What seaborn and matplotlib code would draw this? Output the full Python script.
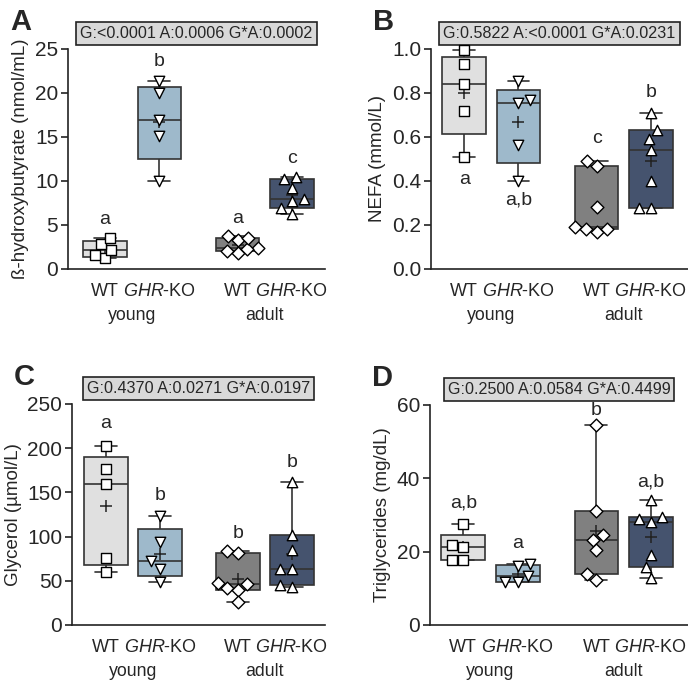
import numpy as np
import pandas as pd
import matplotlib as mpl
import matplotlib.pyplot as plt
import seaborn as sns
from matplotlib.ticker import FormatStrFormatter

groups = ["WT young", "GHR-KO young", "WT adult", "GHR-KO adult"]
positions = [0, 1, 2.44, 3.44]
colors = ["#e0e0e0", "#97bbd3", "#808080", "#3e5175"]
markers = ["s", "v", "D", "^"]
tick_labels = ["WT", r"$\it{GHR}$-KO", "WT", r"$\it{GHR}$-KO"]
age_labels = ["young", "adult"]

bhb = [[1.2, 1.6, 2.2, 2.8, 3.5],
       [21.4, 20.0, 16.9, 15.1, 10.0],
       [3.3, 1.8, 2.4, 2.3, 3.5, 3.8, 2.1],
       [10.2, 10.5, 9.2, 8.0, 7.7, 6.2, 6.9]]
nefa = [[0.997, 0.93, 0.84, 0.72, 0.51],
        [0.856, 0.755, 0.77, 0.565, 0.40],
        [0.49, 0.47, 0.28, 0.17, 0.19, 0.18, 0.18],
        [0.709, 0.633, 0.592, 0.539, 0.398, 0.277, 0.277]]
glycerol = [[202.8, 176.4, 159.7, 75.5, 59.7],
            [123.5, 93.7, 72.5, 63.1, 48.3],
            [83.8, 81.2, 48.0, 41.5, 46.0, 39.6, 26.4],
            [161.3, 102.0, 85.0, 63.0, 63.0, 43.4, 45.3]]
tg = [[27.5, 21.4, 21.8, 17.7, 17.7],
      [16.7, 16.0, 13.5, 11.6, 11.8],
      [54.5, 31.2, 24.5, 23.2, 20.5, 13.8, 12.3],
      [34.1, 29.5, 28.2, 28.9, 19.1, 15.9, 12.9]]

panels = [
    dict(tag="A", data=bhb, ylabel="ß-hydroxybutyrate (nmol/mL)", ymax=25, step=5, fmt="%d",
         anova="G:<0.0001 A:0.0006 G*A:0.0002",
         letters=["a", "b", "a", "c"], letter_y=[5.6, 23.6, 5.7, 12.6],
         rect=[68, 49, 325, 269], xlim=(-0.68, 4.05)),
    dict(tag="B", data=nefa, ylabel="NEFA (mmol/L)", ymax=1.0, step=0.2, fmt="%.1f",
         anova="G:0.5822 A:<0.0001 G*A:0.0231",
         letters=["a", "a,b", "c", "b"], letter_y=[0.406, 0.315, 0.595, 0.803],
         rect=[431, 49, 688, 269], xlim=(-0.61, 4.12)),
    dict(tag="C", data=glycerol, ylabel="Glycerol (µmol/L)", ymax=250, step=50, fmt="%d",
         anova="G:0.4370 A:0.0271 G*A:0.0197",
         letters=["a", "b", "b", "b"], letter_y=[228, 147, 104, 184],
         rect=[72, 404, 325, 625], xlim=(-0.63, 4.05)),
    dict(tag="D", data=tg, ylabel="Triglycerides (mg/dL)", ymax=60, step=20, fmt="%d",
         anova="G:0.2500 A:0.0584 G*A:0.4499",
         letters=["a,b", "a", "b", "a,b"], letter_y=[33.2, 22.1, 58.5, 39.1],
         rect=[430, 405, 688, 625], xlim=(-0.61, 4.12)),
]

# Prism-style quartiles (n+1 method) for the boxes
_mpl_box_stats = mpl.cbook.boxplot_stats


def prism_box_stats(X, *args, **kwargs):
    stats = _mpl_box_stats(X, *args, **kwargs)
    arr = np.asarray(X, dtype=object)
    if arr.ndim == 1 and len(stats) == 1 and np.isscalar(arr[0]):
        arrays = [np.asarray(X, dtype=float)]
    else:
        arrays = [np.asarray(x, dtype=float) for x in X]
    for s, x in zip(stats, arrays):
        if len(x):
            q1, med, q3 = np.percentile(x, [25, 50, 75], method="weibull")
            s.update(q1=q1, med=med, q3=q3, iqr=q3 - q1)
    return stats


mpl.cbook.boxplot_stats = prism_box_stats

sns.set_style("ticks")
plt.rcParams["font.family"] = ["Liberation Sans", "DejaVu Sans"]
plt.rcParams["mathtext.fontset"] = "custom"
plt.rcParams["mathtext.rm"] = "Liberation Sans"
plt.rcParams["mathtext.it"] = "Liberation Sans:italic"

W, H = 688, 681
fig = plt.figure(figsize=(W / 100, H / 100), dpi=100)

for p in panels:
    x0, y0, x1, y1 = p["rect"]
    ax = fig.add_axes([x0 / W, (H - y1) / H, (x1 - x0) / W, (y1 - y0) / H])

    rows = []
    for g, pos, vals in zip(groups, positions, p["data"]):
        for v in vals:
            rows.append((g, pos, v))
    df = pd.DataFrame(rows, columns=["group", "pos", "value"])

    sns.boxplot(data=df, x="pos", y="value", hue="group", hue_order=groups,
                palette=colors, native_scale=True, dodge=False, width=0.8,
                whis=(0, 100), showfliers=False, showmeans=True,
                meanprops=dict(marker="+", markeredgecolor="#222222", markersize=8,
                               markeredgewidth=1.1),
                linecolor="#333333", linewidth=1.2, legend=False, ax=ax)

    for g, m in zip(groups, markers):
        sub = df[df["group"] == g]
        sns.swarmplot(data=sub, x="pos", y="value", native_scale=True, marker=m,
                      color="white", edgecolor="black", linewidth=1.0,
                      size=6.5 if m in ("s", "D") else 7.5, ax=ax)

    for c in ax.collections:
        c.set_clip_on(False)
        c.set_zorder(4)

    ax.set_xlim(*p["xlim"])
    ax.set_ylim(0, p["ymax"])
    ax.set_yticks(np.arange(0, p["ymax"] + p["step"] / 2, p["step"]))
    ax.yaxis.set_major_formatter(FormatStrFormatter(p["fmt"]))
    ax.set_xticks(positions)
    ax.set_xticklabels(tick_labels, fontsize=13)
    ax.tick_params(axis="x", length=0, pad=10)
    ax.tick_params(axis="y", labelsize=15, length=5, width=1.2, color="#222222", pad=2)
    ax.set_xlabel("")
    ax.set_ylabel(p["ylabel"], fontsize=13.5, labelpad=4)
    for s in ["left", "bottom"]:
        ax.spines[s].set_linewidth(1.2)
        ax.spines[s].set_color("#222222")
    sns.despine(ax=ax)

    for i, age in enumerate(age_labels):
        cx = (positions[2 * i] + positions[2 * i + 1]) / 2
        ax.annotate(age, xy=(cx, 0), xycoords=("data", "axes fraction"),
                    xytext=(0, -27), textcoords="offset points",
                    ha="center", va="top", fontsize=12.8)

    for pos, lab, ly in zip(positions, p["letters"], p["letter_y"]):
        ax.text(pos, ly, lab, ha="center", va="center", fontsize=14)

    ax.text(0.5, 1.072, p["anova"], transform=ax.transAxes, ha="center", va="center",
            fontsize=11.6,
            bbox=dict(boxstyle="square,pad=0.25", facecolor="#d9d9d9",
                      edgecolor="#222222", linewidth=1.2))

    fig.text((x0 - 58) / W, 1 - (y0 - 41) / H, p["tag"], fontsize=21,
             fontweight="bold", ha="left", va="top")

fig.savefig("out.png", dpi=100)
